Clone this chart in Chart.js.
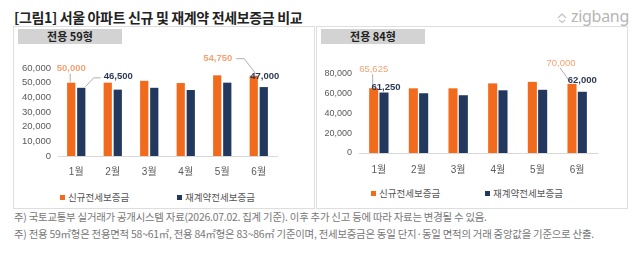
<!DOCTYPE html>
<html>
<head>
<meta charset="utf-8">
<script src="https://cdn.jsdelivr.net/npm/chart.js@4"></script>
<style>
  body { margin: 0; background: #fff; width: 643px; height: 260px; overflow: hidden; position: relative;
         font-family: "Liberation Sans", "Noto Sans CJK KR", sans-serif; }
  .title { position: absolute; left: 14px; top: 7px; font-size: 14px; font-weight: bold; color: #222;
           font-family: "Noto Sans CJK KR", sans-serif; letter-spacing: -0.35px; }
  .logo { position: absolute; left: 556px; top: 5px; font-size: 16px; color: #b5b5b5;
          font-family: "Noto Sans", sans-serif; letter-spacing: -0.3px; }
  .logo svg { vertical-align: -2px; margin-right: 3px; }
  .panel { position: absolute; top: 26px; height: 183px; border: 1px solid #dedede; box-sizing: border-box; }
  .tag { position: absolute; top: 29px; height: 15px; width: 104px; background: #d3d3d3; color: #222;
         font-size: 11px; font-weight: bold; text-align: center; line-height: 15px;
         font-family: "Noto Sans CJK KR", sans-serif; }
  canvas { position: absolute; }
  .legend { position: absolute; font-size: 9.5px; color: #555; font-family: "Noto Sans CJK KR", sans-serif; white-space: nowrap; }
  .legend i { display: inline-block; width: 5px; height: 5px; margin-right: 3px; vertical-align: 1px; }
  .note { position: absolute; left: 14px; font-size: 10.4px; color: #777; font-family: "Noto Sans CJK KR", sans-serif;
          letter-spacing: -0.22px; white-space: nowrap; }
</style>
</head>
<body>
<div class="title">[그림1] 서울 아파트 신규 및 재계약 전세보증금 비교</div>
<div class="logo"><svg width="12" height="12" viewBox="0 0 12 12"><path d="M2 6 L6 2 L10 6 M3 8 L6 10.5 L9 8" fill="none" stroke="#c5c5c5" stroke-width="1.3"/></svg>zigbang</div>

<div class="panel" style="left:13px;width:302px"></div>
<div class="panel" style="left:316px;width:312px"></div>
<div class="tag" style="left:18px">전용 59형</div>
<div class="tag" style="left:321px">전용 84형</div>

<canvas id="c59" width="298" height="136" style="left:14px;top:46px;width:298px;height:136px"></canvas>
<canvas id="c84" width="309" height="136" style="left:318px;top:46px;width:309px;height:136px"></canvas>

<div class="legend" style="left:60px;top:190px"><i style="background:#F26A1B"></i>신규전세보증금</div>
<div class="legend" style="left:177px;top:190px"><i style="background:#22385E"></i>재계약전세보증금</div>
<div class="legend" style="left:371px;top:186px"><i style="background:#F26A1B"></i>신규전세보증금</div>
<div class="legend" style="left:485px;top:186px"><i style="background:#22385E"></i>재계약전세보증금</div>

<div class="note" style="top:209px">주) 국토교통부 실거래가 공개시스템 자료(2026.07.02. 집계 기준). 이후 추가 신고 등에 따라 자료는 변경될 수 있음.</div>
<div class="note" style="top:226px">주) 전용 59㎡형은 전용면적 58~61㎡, 전용 84㎡형은 83~86㎡ 기준이며, 전세보증금은 동일 단지·동일 면적의 거래 중앙값을 기준으로 산출.</div>

<script>
const months = ['1월', '2월', '3월', '4월', '5월', '6월'];
const seriesNames = ['신규전세보증금', '재계약전세보증금'];

// 전용 59형
const new59 = [50000, 50000, 51250, 49750, 55000, 54750];
const renew59 = [46500, 45250, 46500, 45000, 50000, 47000];

// 전용 84형
const new84 = [65625, 65500, 65500, 70500, 72000, 70000];
const renew84 = [61250, 60500, 58500, 63500, 64000, 62000];

const ORANGE = '#F26A1B';
const NAVY = '#22385E';

// callouts: dataset, index, offset of label from bar top, leader line style
const callouts59 = [
  {ds: 0, i: 0, dx: 0, dy: -14, bold: true, leader: 'down'},
  {ds: 1, i: 0, dx: 37, dy: -11, bold: true, leader: 'left'},
  {ds: 0, i: 5, dx: -36, dy: -17, bold: true, leader: 'right'},
  {ds: 1, i: 5, dx: 1, dy: -11, bold: true}
];
const callouts84 = [
  {ds: 0, i: 0, dx: 0, dy: -19, bold: false, leader: 'down'},
  {ds: 1, i: 0, dx: 2, dy: -5, bold: true},
  {ds: 0, i: 5, dx: -11, dy: -21, bold: false, leader: 'diag'},
  {ds: 1, i: 5, dx: 0, dy: -11, bold: true}
];

const calloutPlugin = {
  id: 'callouts',
  afterDatasetsDraw(chart, args, opts) {
    const ctx = chart.ctx;
    ctx.save();
    opts.items.forEach(c => {
      const bar = chart.getDatasetMeta(c.ds).data[c.i];
      const val = chart.data.datasets[c.ds].data[c.i];
      const text = val.toLocaleString('en-US');
      const lx = bar.x + c.dx, ly = bar.y + c.dy;
      ctx.font = (c.bold ? 'bold ' : '') + '9.5px "Liberation Sans", Arial, sans-serif';
      const w = ctx.measureText(text).width;
      ctx.strokeStyle = '#9a9a9a';
      ctx.lineWidth = 0.8;
      ctx.beginPath();
      if (c.leader === 'down') {
        ctx.moveTo(lx - 1, ly + 5); ctx.lineTo(bar.x - 1, bar.y - 1);
      } else if (c.leader === 'left') {
        ctx.moveTo(lx - w / 2 - 3, ly + 1); ctx.lineTo(lx - w / 2 - 10, ly + 1); ctx.lineTo(bar.x + 4, bar.y - 1);
      } else if (c.leader === 'right') {
        ctx.moveTo(lx + w / 2 + 4, ly); ctx.lineTo(lx + w / 2 + 12, ly); ctx.lineTo(bar.x + 2, bar.y - 2);
      } else if (c.leader === 'diag') {
        ctx.moveTo(lx - 1, ly + 5); ctx.lineTo(bar.x - 2, bar.y - 2);
      }
      if (c.leader) ctx.stroke();
      ctx.fillStyle = c.ds === 0 ? '#F4A373' : '#2C3A56';
      ctx.textAlign = 'center';
      ctx.textBaseline = 'middle';
      ctx.fillText(text, lx, ly);
    });
    ctx.restore();
  }
};

function makeChart(id, newVals, renewVals, cfg) {
  return new Chart(document.getElementById(id), {
    type: 'bar',
    data: {
      labels: months,
      datasets: [
        {label: seriesNames[0], data: newVals, backgroundColor: ORANGE},
        {label: seriesNames[1], data: renewVals, backgroundColor: NAVY}
      ]
    },
    options: {
      responsive: false,
      animation: false,
      events: [],
      layout: {padding: {top: cfg.padTop, right: cfg.padRight, left: 0, bottom: 0}},
      datasets: {bar: {categoryPercentage: cfg.catPct, barPercentage: cfg.barPct}},
      plugins: {
        legend: {display: false},
        tooltip: {enabled: false},
        callouts: {items: cfg.callouts}
      },
      scales: {
        x: {
          grid: {display: false, drawTicks: false},
          border: {display: true, color: '#d9d9d9'},
          ticks: {color: '#595959', padding: cfg.xPad,
                  font: {family: '"Liberation Sans", "Noto Sans CJK KR", sans-serif', size: 10}},
          afterFit: s => { s.height = cfg.xH; }
        },
        y: {
          min: 0, max: cfg.max,
          grid: {display: false, drawTicks: false},
          border: {display: false},
          ticks: {stepSize: 10000, color: '#595959', padding: 7,
                  font: {family: '"Liberation Sans", Arial, sans-serif', size: cfg.yFont},
                  callback: v => v.toLocaleString('en-US')},
          afterFit: s => { s.width = cfg.yW; }
        }
      }
    },
    plugins: [calloutPlugin]
  });
}

makeChart('c59', new59, renew59, {
  max: 60000, padTop: 22, padRight: 35, xH: 26, xPad: 10, yW: 44, yFont: 9.5,
  catPct: 0.55, barPct: 0.82, callouts: callouts59
});
makeChart('c84', new84, renew84, {
  max: 80000, padTop: 28, padRight: 30, xH: 29, xPad: 11, yW: 41, yFont: 9,
  catPct: 0.52, barPct: 0.88, callouts: callouts84
});
</script>
</body>
</html>
